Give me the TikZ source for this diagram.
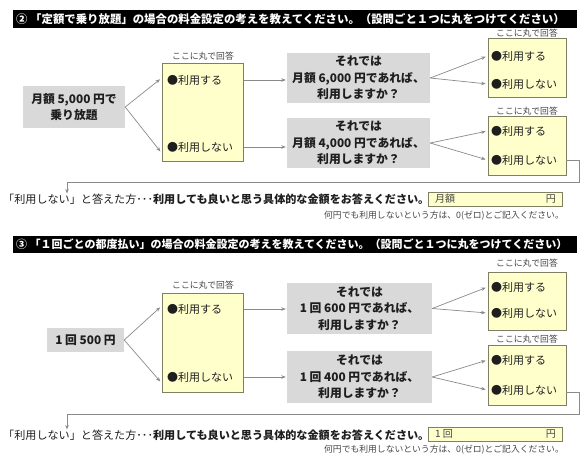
\documentclass[tikz,border=0pt]{standalone}
\usepackage{fontspec}
\setmainfont{Noto Sans CJK JP}
\usetikzlibrary{arrows.meta}
\definecolor{boxgray}{HTML}{D9D9D9}
\definecolor{yfill}{HTML}{FFFFCC}
\definecolor{yborder}{HTML}{7F7F62}
\definecolor{arrgray}{HTML}{8A8A8A}
\definecolor{txt}{HTML}{1E1E1E}
\definecolor{lbltxt}{HTML}{444444}
\tikzset{
  hdrbar/.style={fill=black, draw=none, inner sep=0},
  hdrtext/.style={text=white, font=\bfseries\fontsize{11.4}{13}\selectfont, anchor=west, inner sep=0},
  gbox/.style={fill=boxgray, draw=none, align=center, font=\bfseries\fontsize{11.8}{16.5}\selectfont, text=txt, inner sep=0},
  ybox/.style={fill=yfill, draw=yborder, line width=0.8pt, inner sep=0},
  item/.style={font=\fontsize{11}{12}\selectfont, anchor=west, inner sep=0, text=txt},
  lbl/.style={font=\fontsize{8.8}{9}\selectfont, text=lbltxt, inner sep=0},
  arr/.style={draw=arrgray, line width=0.7pt, -{Stealth[length=4.5pt,width=3.5pt]}},
  conn/.style={draw=arrgray, line width=0.7pt},
  bottomtext/.style={font=\fontsize{11.1}{12}\selectfont, text=txt, anchor=west, inner sep=0},
  notetext/.style={font=\fontsize{8.8}{9}\selectfont, text=lbltxt, anchor=east, inner sep=0},
  anstext/.style={font=\fontsize{10}{11}\selectfont, text=lbltxt, inner sep=0}
}
\begin{document}
\begin{tikzpicture}[x=1pt,y=-1pt]
\useasboundingbox[fill=white] (0,0) rectangle (585,459);

% ---------- Section 1 ----------
\node[hdrbar, minimum width=564pt, minimum height=18pt] (h1) at (295,19) {};
\node[hdrtext] (h1t) at (16,19) {② 「定額で乗り放題」の場合の料金設定の考えを教えてください。（設問ごと１つに丸をつけてください）};

\node[lbl] (lA1) at (527,33) {ここに丸で回答};
\node[ybox, minimum width=78pt, minimum height=59pt] (A1) at (527,67.5) {};
\node[lbl] (lB1g) at (203,56) {ここに丸で回答};
\node[ybox, minimum width=81pt, minimum height=98pt] (big1) at (202.5,112) {};
\node[gbox, minimum width=102pt, minimum height=42pt] (q1) at (74,107) {月額 5,000 円で\\乗り放題};
\node[gbox, minimum width=143pt, minimum height=50pt] (g6) at (358.5,78) {それでは\\月額 6,000 円であれば、\\利用しますか？};
\node[lbl] (lA2) at (527,111) {ここに丸で回答};
\node[ybox, minimum width=78pt, minimum height=59pt] (A2) at (527,145.5) {};
\node[gbox, minimum width=143pt, minimum height=50pt] (g4) at (358.5,143) {それでは\\月額 4,000 円であれば、\\利用しますか？};

\node[item] (b1s) at (167,80) {●利用する};
\node[item] (b1n) at (167,147) {●利用しない};
\node[item] (a1s) at (491,56) {●利用する};
\node[item] (a1n) at (491,84) {●利用しない};
\node[item] (a2s) at (491,131) {●利用する};
\node[item] (a2n) at (491,160) {●利用しない};

\draw[arr, shorten >=2pt] (q1.east) -- ([yshift=2pt]big1.west |- b1s);
\draw[arr, shorten >=2pt] (q1.east) -- ([yshift=-6pt]big1.west |- b1n);
\draw[arr, shorten <=1pt, shorten >=1pt] (big1.east |- b1s) -- (g6.west |- b1s);
\draw[arr, shorten <=1pt, shorten >=1pt] (big1.east |- b1n) -- (g4.west |- b1n);
\draw[arr, shorten >=2pt] (g6.east) -- (A1.west |- a1s);
\draw[arr, shorten >=2pt] (g6.east) -- (A1.west |- a1n);
\draw[arr, shorten >=2pt] (g4.east) -- (A2.west |- a2s);
\draw[arr, shorten >=2pt] (g4.east) -- (A2.west |- a2n);

\node[bottomtext] (t1) at (3,199) {「利用しない」と答えた方･･･\textbf{利用しても良いと思う具体的な金額をお答えください。}};
\coordinate (r1) at (579,182);
\coordinate (d1) at (67,182);
\draw[arr] (A2.east |- a2n) -| (r1) -- (d1) -- (d1 |- t1.north);

\node[ybox, minimum width=134pt, minimum height=14pt] (ans1) at (495,199) {};
\node[anstext, anchor=west] (ans1a) at (435,199) {月額};
\node[anstext, anchor=east] (ans1b) at (556,199) {円};
\node[notetext] (n1) at (564,216) {何円でも利用しないという方は、0(ゼロ)とご記入ください。};

% ---------- Section 2 ----------
\node[hdrbar, minimum width=564pt, minimum height=17pt] (h2) at (295,244.5) {};
\node[hdrtext, font=\bfseries\fontsize{11}{13}\selectfont] (h2t) at (16,244.5) {③ 「１回ごとの都度払い」の場合の料金設定の考えを教えてください。（設問ごと１つに丸をつけてください）};

\node[lbl] (lB1) at (527,263) {ここに丸で回答};
\node[ybox, minimum width=78pt, minimum height=58pt] (B1) at (527,301) {};
\node[lbl] (lB2g) at (203,285) {ここに丸で回答};
\node[ybox, minimum width=81pt, minimum height=99pt] (big2) at (202.5,342.5) {};
\node[gbox, minimum width=77pt, minimum height=24pt] (q2) at (85.5,340) {1 回 500 円};
\node[gbox, minimum width=145pt, minimum height=51pt] (g600) at (359.5,308.5) {それでは\\1 回 600 円であれば、\\利用しますか？};
\node[lbl] (lB2) at (527,339) {ここに丸で回答};
\node[ybox, minimum width=78pt, minimum height=60pt] (B2) at (527,375) {};
\node[gbox, minimum width=145pt, minimum height=52pt] (g400) at (359.5,377) {それでは\\1 回 400 円であれば、\\利用しますか？};

\node[item] (c2s) at (167,309) {●利用する};
\node[item] (c2n) at (167,377) {●利用しない};
\node[item] (b1s2) at (491,287) {●利用する};
\node[item] (b1n2) at (491,313) {●利用しない};
\node[item] (b2s2) at (491,360) {●利用する};
\node[item] (b2n2) at (491,390) {●利用しない};

\draw[arr, shorten >=2pt] (q2.east) -- ([yshift=3pt]big2.west |- c2s);
\draw[arr, shorten >=2pt] (q2.east) -- ([yshift=-6pt]big2.west |- c2n);
\draw[arr, shorten <=1pt, shorten >=1pt] (big2.east |- c2s) -- (g600.west |- c2s);
\draw[arr, shorten <=1pt, shorten >=1pt] (big2.east |- c2n) -- (g400.west |- c2n);
\draw[arr, shorten >=2pt] (g600.east) -- (B1.west |- b1s2);
\draw[arr, shorten >=2pt] (g600.east) -- (B1.west |- b1n2);
\draw[arr, shorten >=2pt] (g400.east) -- (B2.west |- b2s2);
\draw[arr, shorten >=2pt] (g400.east) -- (B2.west |- b2n2);

\node[bottomtext] (t2) at (3,435) {「利用しない」と答えた方･･･\textbf{利用しても良いと思う具体的な金額をお答えください。}};
\coordinate (r2) at (579,414);
\coordinate (d2) at (67,414);
\draw[arr] ([yshift=-2pt]B2.east |- b2n2) -| (r2) -- (d2) -- (d2 |- t2.north);

\node[ybox, minimum width=134pt, minimum height=14pt] (ans2) at (495,434) {};
\node[anstext, anchor=west] (ans2a) at (435,434) {1 回};
\node[anstext, anchor=east] (ans2b) at (556,434) {円};
\node[notetext] (n2) at (564,450) {何円でも利用しないという方は、0(ゼロ)とご記入ください。};
\end{tikzpicture}
\end{document}
